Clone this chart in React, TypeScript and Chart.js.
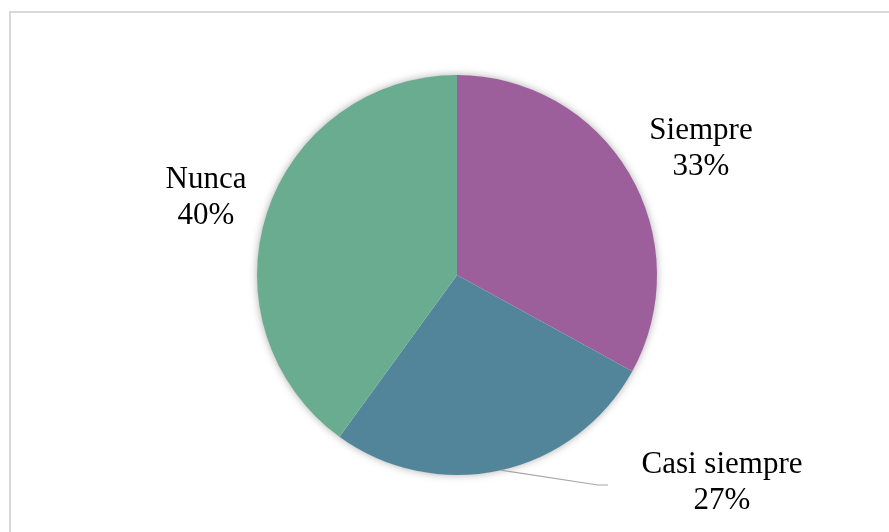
import React, { useEffect, useRef } from "react";
import { Chart, registerables } from "chart.js";

Chart.register(...registerables);

const categories = ["Siempre", "Casi siempre", "Nunca"];
const values = [33, 27, 40];
const percentLabels = ["33%", "27%", "40%"];
const colors = ["#9D5F9B", "#53859A", "#69AC90"];

// label anchor offsets (in units of pie radius) relative to pie center
const labelOffsets = [
  { x: 1.22, y: -0.68, leader: false },
  { x: 1.325, y: 0.99, leader: true },
  { x: -1.255, y: -0.435, leader: false },
];

const framePlugin = {
  id: "frame",
  beforeDraw(chart: any) {
    const ctx = chart.ctx;
    ctx.save();
    ctx.fillStyle = "#ffffff";
    ctx.fillRect(0, 0, chart.width, chart.height);
    ctx.strokeStyle = "#d9d9d9";
    ctx.lineWidth = 2;
    ctx.strokeRect(10, 12, chart.width + 50, chart.height + 50);
    ctx.restore();
  },
};

const shadowPlugin = {
  id: "pieShadow",
  beforeDatasetsDraw(chart: any) {
    const meta = chart.getDatasetMeta(0);
    const arc = meta.data[0];
    if (!arc) return;
    const { x, y, outerRadius } = arc.getProps(["x", "y", "outerRadius"], true);
    const ctx = chart.ctx;
    ctx.save();
    ctx.shadowColor = "rgba(0,0,0,0.35)";
    ctx.shadowBlur = 9;
    ctx.fillStyle = "#ffffff";
    ctx.beginPath();
    ctx.arc(x, y, outerRadius - 0.5, 0, Math.PI * 2);
    ctx.fill();
    ctx.restore();
  },
};

const labelPlugin = {
  id: "sliceLabels",
  afterDatasetsDraw(chart: any) {
    const meta = chart.getDatasetMeta(0);
    const ctx = chart.ctx;
    ctx.save();
    ctx.font = '31px "Liberation Serif", "Times New Roman", serif';
    ctx.fillStyle = "#000000";
    ctx.textAlign = "center";
    ctx.textBaseline = "alphabetic";
    meta.data.forEach((arc: any, i: number) => {
      const { x, y, startAngle, endAngle, outerRadius } = arc.getProps(
        ["x", "y", "startAngle", "endAngle", "outerRadius"],
        true
      );
      const off = labelOffsets[i];
      const lx = x + off.x * outerRadius;
      const ly = y + off.y * outerRadius;
      if (off.leader) {
        const mid = (startAngle + endAngle) / 2;
        const sx = x + Math.cos(mid) * outerRadius;
        const sy = y + Math.sin(mid) * outerRadius;
        const ex = lx - 124;
        const ey = ly + 12;
        ctx.save();
        ctx.strokeStyle = "#a6a6a6";
        ctx.lineWidth = 1.2;
        ctx.beginPath();
        ctx.moveTo(sx, sy);
        ctx.lineTo(ex, ey);
        ctx.lineTo(ex + 10, ey);
        ctx.stroke();
        ctx.restore();
      }
      ctx.fillText(categories[i], lx, ly);
      ctx.fillText(percentLabels[i], lx, ly + 36);
    });
    ctx.restore();
  },
};

export default function App() {
  const canvasRef = useRef<HTMLCanvasElement | null>(null);

  useEffect(() => {
    document.body.style.margin = "0";
    if (!canvasRef.current) return;
    const chart = new Chart(canvasRef.current, {
      type: "pie",
      data: {
        labels: categories,
        datasets: [
          {
            data: values,
            backgroundColor: colors,
            borderWidth: 0,
          },
        ],
      },
      options: {
        animation: false,
        responsive: false,
        maintainAspectRatio: false,
        layout: { padding: { left: 257, right: 232, top: 75, bottom: 57 } },
        plugins: {
          legend: { display: false },
          tooltip: { enabled: false },
        },
      },
      plugins: [framePlugin, shadowPlugin, labelPlugin],
    });
    return () => chart.destroy();
  }, []);

  return (
    <div style={{ position: "absolute", left: 0, top: 0, width: 889, height: 532 }}>
      <canvas ref={canvasRef} width={889} height={532} style={{ display: "block" }} />
    </div>
  );
}
